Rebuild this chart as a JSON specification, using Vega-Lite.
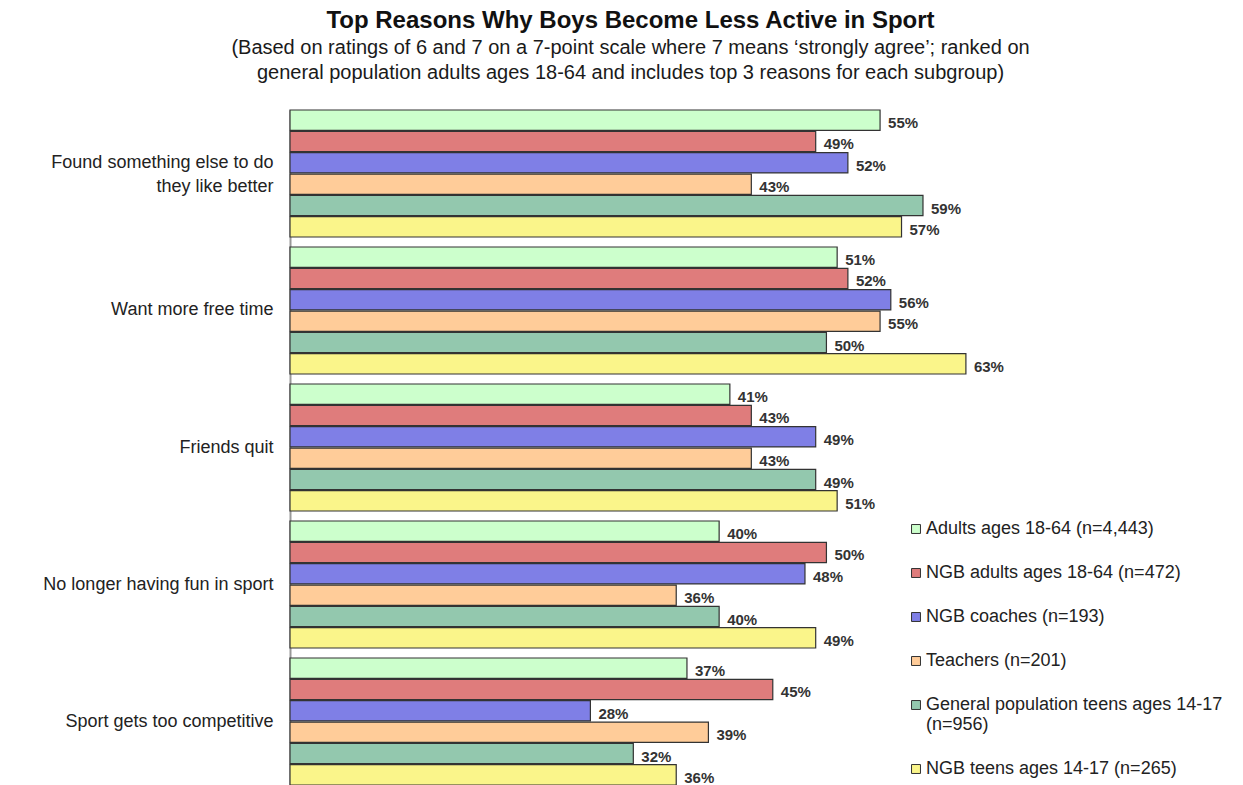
{
  "$schema": "https://vega.github.io/schema/vega-lite/v6.json",
  "autosize": {"type": "none"},
  "width": 751,
  "height": 675,
  "padding": {"left": 290, "top": 110, "right": 202, "bottom": 0},
  "background": "white",
  "config": {"view": {"stroke": null}},
  "title": {
    "text": "Top Reasons Why Boys Become Less Active in Sport",
    "subtitle": ["(Based on ratings of 6 and 7 on a 7-point scale where 7 means ‘strongly agree’; ranked on", "general population adults ages 18-64 and includes top 3 reasons for each subgroup)"],
    "anchor": "middle",
    "dx": -35,
    "offset": 26,
    "font": "Liberation Sans",
    "fontSize": 24,
    "fontWeight": "bold",
    "color": "#111111",
    "subtitleFont": "Liberation Sans",
    "subtitleFontSize": 20,
    "subtitleColor": "#1a1a1a",
    "subtitleLineHeight": 25,
    "subtitlePadding": 5
  },
  "data": {
    "values": [
      {"reason": "Found something else to do they like better", "group": "Adults ages 18-64 (n=4,443)", "value": 55},
      {"reason": "Found something else to do they like better", "group": "NGB adults ages 18-64 (n=472)", "value": 49},
      {"reason": "Found something else to do they like better", "group": "NGB coaches (n=193)", "value": 52},
      {"reason": "Found something else to do they like better", "group": "Teachers (n=201)", "value": 43},
      {"reason": "Found something else to do they like better", "group": "General population teens ages 14-17 (n=956)", "value": 59},
      {"reason": "Found something else to do they like better", "group": "NGB teens ages 14-17 (n=265)", "value": 57},
      {"reason": "Want more free time", "group": "Adults ages 18-64 (n=4,443)", "value": 51},
      {"reason": "Want more free time", "group": "NGB adults ages 18-64 (n=472)", "value": 52},
      {"reason": "Want more free time", "group": "NGB coaches (n=193)", "value": 56},
      {"reason": "Want more free time", "group": "Teachers (n=201)", "value": 55},
      {"reason": "Want more free time", "group": "General population teens ages 14-17 (n=956)", "value": 50},
      {"reason": "Want more free time", "group": "NGB teens ages 14-17 (n=265)", "value": 63},
      {"reason": "Friends quit", "group": "Adults ages 18-64 (n=4,443)", "value": 41},
      {"reason": "Friends quit", "group": "NGB adults ages 18-64 (n=472)", "value": 43},
      {"reason": "Friends quit", "group": "NGB coaches (n=193)", "value": 49},
      {"reason": "Friends quit", "group": "Teachers (n=201)", "value": 43},
      {"reason": "Friends quit", "group": "General population teens ages 14-17 (n=956)", "value": 49},
      {"reason": "Friends quit", "group": "NGB teens ages 14-17 (n=265)", "value": 51},
      {"reason": "No longer having fun in sport", "group": "Adults ages 18-64 (n=4,443)", "value": 40},
      {"reason": "No longer having fun in sport", "group": "NGB adults ages 18-64 (n=472)", "value": 50},
      {"reason": "No longer having fun in sport", "group": "NGB coaches (n=193)", "value": 48},
      {"reason": "No longer having fun in sport", "group": "Teachers (n=201)", "value": 36},
      {"reason": "No longer having fun in sport", "group": "General population teens ages 14-17 (n=956)", "value": 40},
      {"reason": "No longer having fun in sport", "group": "NGB teens ages 14-17 (n=265)", "value": 49},
      {"reason": "Sport gets too competitive", "group": "Adults ages 18-64 (n=4,443)", "value": 37},
      {"reason": "Sport gets too competitive", "group": "NGB adults ages 18-64 (n=472)", "value": 45},
      {"reason": "Sport gets too competitive", "group": "NGB coaches (n=193)", "value": 28},
      {"reason": "Sport gets too competitive", "group": "Teachers (n=201)", "value": 39},
      {"reason": "Sport gets too competitive", "group": "General population teens ages 14-17 (n=956)", "value": 32},
      {"reason": "Sport gets too competitive", "group": "NGB teens ages 14-17 (n=265)", "value": 36}
    ]
  },
  "encoding": {
    "y": {
      "field": "reason",
      "type": "nominal",
      "sort": null,
      "scale": {"paddingInner": 0.073, "paddingOuter": 0},
      "axis": {
        "title": null,
        "ticks": false,
        "domainColor": "#999999",
        "domainWidth": 2,
        "labelFont": "Liberation Sans",
        "labelFontSize": 18,
        "labelColor": "#222222",
        "labelPadding": 17,
        "labelLimit": 300,
        "labelLineHeight": 24,
        "labelOffset": {"condition": {"test": "datum.value == 'Found something else to do they like better'", "value": -10}, "value": 0},
        "labelExpr": "datum.label == 'Found something else to do they like better' ? ['Found something else to do', 'they like better'] : datum.label"
      }
    },
    "yOffset": {
      "field": "group",
      "type": "nominal",
      "sort": null,
      "scale": {"paddingInner": 0.05, "paddingOuter": 0}
    },
    "x": {
      "field": "value",
      "type": "quantitative",
      "scale": {"domain": [0, 70]},
      "axis": null
    }
  },
  "layer": [
    {
      "mark": {"type": "bar", "stroke": "#333333", "strokeWidth": 1.2},
      "encoding": {
        "color": {
          "field": "group",
          "type": "nominal",
          "sort": null,
          "scale": {
            "domain": ["Adults ages 18-64 (n=4,443)", "NGB adults ages 18-64 (n=472)", "NGB coaches (n=193)", "Teachers (n=201)", "General population teens ages 14-17 (n=956)", "NGB teens ages 14-17 (n=265)"],
            "range": ["#CCFFCC", "#DF7C7C", "#7F7FE6", "#FFCC99", "#93C8AE", "#FAF58A"]
          },
          "legend": {
            "title": null,
            "orient": "none",
            "legendX": 617,
            "legendY": 410,
            "symbolType": "square",
            "symbolSize": 80,
            "symbolStrokeColor": "#333333",
            "symbolStrokeWidth": 1,
            "symbolOpacity": 1,
            "labelFont": "Liberation Sans",
            "labelFontSize": 18,
            "labelColor": "#222222",
            "labelOffset": 1,
            "labelLimit": 400,
            "labelLineHeight": 21,
            "rowPadding": 26,
            "labelExpr": "datum.label == 'General population teens ages 14-17 (n=956)' ? ['General population teens ages 14-17', '(n=956)'] : datum.label"
          }
        }
      }
    },
    {
      "mark": {"type": "text", "align": "left", "baseline": "middle", "dx": 8, "dy": 3, "font": "Liberation Sans", "fontSize": 15, "fontWeight": "bold", "color": "#333333", "text": {"expr": "datum.value + '%'"}}
    }
  ]
}
